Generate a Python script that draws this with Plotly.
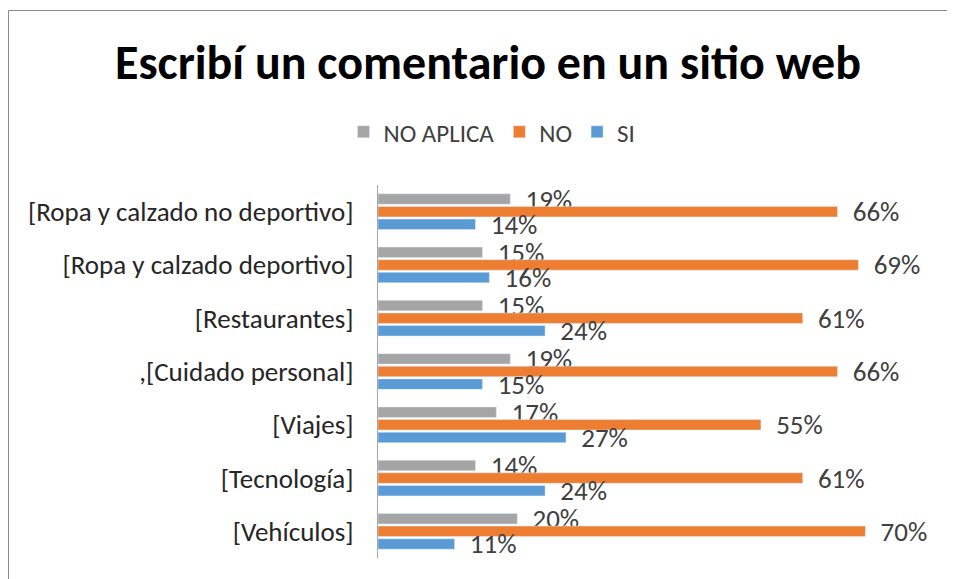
import plotly.graph_objects as go

# categories top -> bottom
categories = [
    "[Ropa y calzado no deportivo]",
    "[Ropa y calzado deportivo]",
    "[Restaurantes]",
    ",[Cuidado personal]",
    "[Viajes]",
    "[Tecnología]",
    "[Vehículos]",
]
no_aplica = [19, 15, 15, 19, 17, 14, 20]
no = [66, 69, 61, 66, 55, 61, 70]
si = [14, 16, 24, 15, 27, 24, 11]

series = [
    ("NO APLICA", no_aplica, "#A5A5A5"),
    ("NO", no, "#ED7D31"),
    ("SI", si, "#5B9BD5"),
]

FONT = "Carlito, Lato, 'Open Sans', sans-serif"

# page body has an 8px margin, so the figure is drawn 8px smaller
W, H = 947, 571
L, R, T, B = 370, 20, 177, 21
pw, ph = W - L - R, H - T - B

fig = go.Figure()
for name, vals, col in series:
    fig.add_trace(go.Bar(
        y=categories, x=vals, name=name, orientation="h",
        marker=dict(color=col),
        text=vals, texttemplate="\u00a0\u00a0%{x}%",
        textposition="outside", cliponaxis=False, constraintext="none",
        textfont=dict(family=FONT, size=27, color="#404040"),
    ))

fig.update_layout(
    width=W, height=H,
    paper_bgcolor="white", plot_bgcolor="white",
    margin=dict(l=L, r=R, t=T, b=B),
    barmode="group", bargap=0.29, bargroupgap=0.17,
    font=dict(family=FONT, size=20, color="#404040"),
    title=dict(text="<b>Escribí un comentario en un sitio web</b>",
               font=dict(family=FONT, size=48, color="#000000"),
               x=480 / W, xanchor="center", y=1 - 54 / H, yanchor="middle"),
    legend=dict(orientation="h", xref="container", x=484 / W, xanchor="center",
                yref="container", y=1 - 124 / H, yanchor="middle",
                font=dict(family=FONT, size=25, color="#404040"),
                traceorder="normal"),
    xaxis=dict(range=[0, 80], visible=False, showgrid=False, zeroline=False),
    yaxis=dict(autorange="reversed", showline=True, linecolor="#A6A6A6", linewidth=1,
               ticks="", ticklabelstandoff=18,
               tickfont=dict(family=FONT, size=27, color="#262626")),
    shapes=[dict(type="rect", xref="paper", yref="paper",
                 x0=(0.5 - L) / pw, x1=1.2, y0=-0.2, y1=(H - B - 2.5) / ph,
                 line=dict(color="#8C8C8C", width=1), layer="below")],
    showlegend=True,
)

fig.write_html("out.html")
